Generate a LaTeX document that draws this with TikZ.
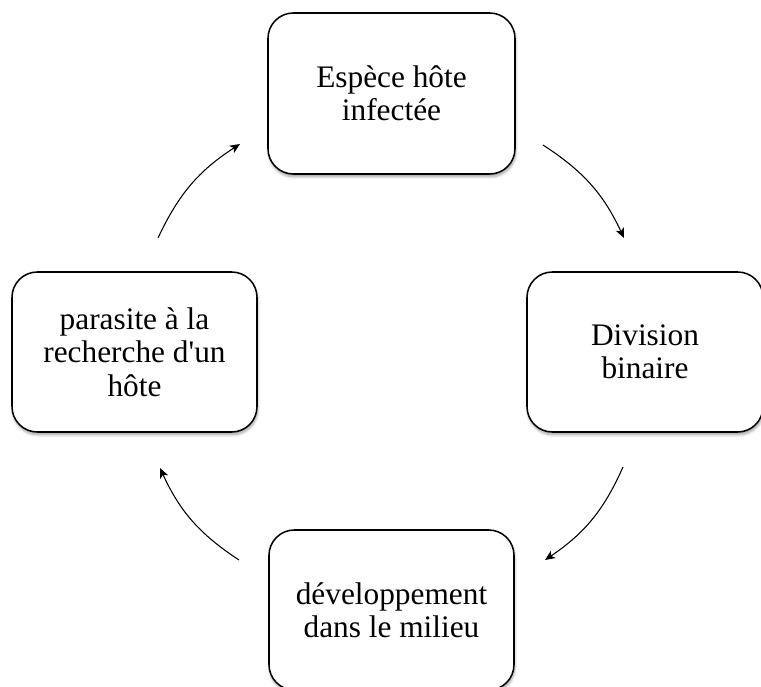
\documentclass[tikz,border=0pt]{standalone}
\usepackage{fontspec}
\setmainfont{Liberation Serif}[Ligatures=TeXOff]
\usetikzlibrary{arrows.meta,shadows.blur}
\tikzset{
  stage/.style={draw=black, line width=1.15pt, rounded corners=19pt, fill=white,
    align=center, inner sep=0pt, font=\fontsize{23.5}{25}\selectfont,
    blur shadow={shadow xshift=0.6pt, shadow yshift=-2.2pt, shadow blur steps=6, shadow opacity=35}},
  cyc/.style={line width=0.8pt, -{Stealth[length=7.5pt,width=6.5pt,inset=2pt]}, bend left=16}
}
\begin{document}
\begin{tikzpicture}[x=0.75pt,y=-0.75pt]
\useasboundingbox (0,0) rectangle (761,686);
\node[stage, minimum width=185.25pt, minimum height=120.75pt] (top) at (391.5,93.5) {Espèce hôte\\infectée};
\node[stage, minimum width=177pt, minimum height=120pt] (right) at (645,352) {Division\\binaire};
\node[stage, minimum width=183.75pt, minimum height=120pt] (left) at (134.5,352) {parasite à la\\recherche d'un\\hôte};
\node[stage, minimum width=183.75pt, minimum height=120pt] (bottom) at (391.5,610) {développement\\dans le milieu};
\coordinate (a1) at (158,238);
\coordinate (a2) at (240,144);
\coordinate (b1) at (543,145);
\coordinate (b2) at (624,238);
\coordinate (c1) at (623,467);
\coordinate (c2) at (545,560);
\coordinate (d1) at (239,560);
\coordinate (d2) at (160,468);
\draw[cyc] (a1) to (a2);
\draw[cyc] (b1) to (b2);
\draw[cyc] (c1) to (c2);
\draw[cyc] (d1) to (d2);
\end{tikzpicture}
\end{document}
